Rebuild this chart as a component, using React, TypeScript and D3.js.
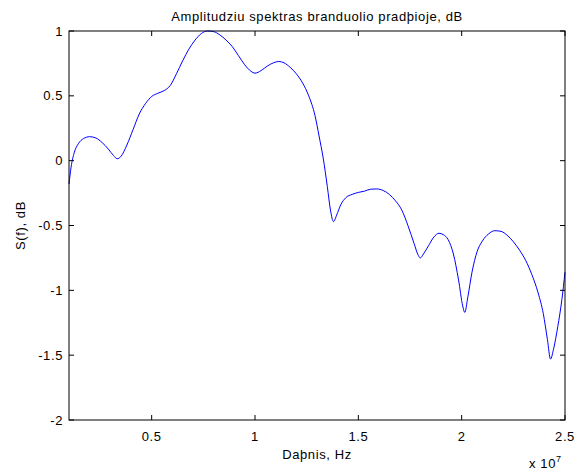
import React from "react";
import * as d3 from "d3";

// Frequency (×1e7 Hz) and spectrum amplitude (dB, normalised)
const freq = [
  0.1, 0.11, 0.125, 0.145, 0.17, 0.2, 0.23, 0.26, 0.29, 0.315, 0.333, 0.35, 0.38, 0.41, 0.44, 0.47,
  0.5, 0.53, 0.56, 0.59, 0.62, 0.65, 0.68, 0.71, 0.74, 0.77, 0.8, 0.83, 0.86, 0.89, 0.92, 0.95,
  0.98, 1.0, 1.03, 1.06, 1.09, 1.115, 1.14, 1.17, 1.2, 1.23, 1.26, 1.29, 1.31, 1.33, 1.35, 1.365,
  1.38, 1.395, 1.415, 1.44, 1.47, 1.5, 1.53, 1.56, 1.59, 1.62, 1.65, 1.68, 1.71, 1.74, 1.77, 1.79,
  1.8, 1.815, 1.84, 1.865, 1.89, 1.91, 1.935, 1.96, 1.985, 2.005, 2.015, 2.03, 2.05, 2.075, 2.1,
  2.13, 2.16, 2.19, 2.22, 2.25, 2.28, 2.31, 2.34, 2.37, 2.395, 2.415, 2.43, 2.445, 2.465, 2.485, 2.5,
];
const amp = [
  -0.18, -0.05, 0.06, 0.13, 0.17, 0.185, 0.175, 0.14, 0.09, 0.04, 0.015, 0.03, 0.12, 0.24, 0.36, 0.44,
  0.495, 0.52, 0.54, 0.58, 0.67, 0.77, 0.86, 0.93, 0.98, 1.0, 0.995, 0.97, 0.93, 0.88, 0.81, 0.74,
  0.69, 0.675, 0.695, 0.73, 0.755, 0.765, 0.755, 0.72, 0.67, 0.6, 0.5, 0.35, 0.19, 0.02, -0.2, -0.38,
  -0.47, -0.42, -0.34, -0.285, -0.26, -0.245, -0.235, -0.22, -0.218, -0.23, -0.26, -0.31, -0.38, -0.5, -0.64, -0.73,
  -0.75, -0.72, -0.655, -0.59, -0.56, -0.57, -0.61, -0.72, -0.92, -1.12, -1.17, -1.05, -0.86, -0.7, -0.62,
  -0.565, -0.54, -0.545, -0.575, -0.625, -0.69, -0.77, -0.88, -1.02, -1.18, -1.38, -1.53, -1.45, -1.28, -1.07, -0.86,
];

const xTicks = [0.5, 1, 1.5, 2, 2.5];
const xTickLabels = ["0.5", "1", "1.5", "2", "2.5"];
const yTicks = [-2, -1.5, -1, -0.5, 0, 0.5, 1];
const yTickLabels = ["-2", "-1.5", "-1", "-0.5", "0", "0.5", "1"];

const title = "Amplitudziu spektras branduolio pradþioje, dB";
const xLabel = "Daþnis, Hz";
const yLabel = "S(f), dB";

const W = 585;
const H = 472;
const left = 69;
const right = 565;
const top = 31;
const bottom = 420;
const tickLen = 5;
const fs = 13;
const ls = 0.6;
const font = "Arial, 'Liberation Sans', Helvetica, sans-serif";

export default function App() {
  const x = d3.scaleLinear().domain([0.1, 2.5]).range([left, right]);
  const y = d3.scaleLinear().domain([-2, 1]).range([bottom, top]);
  const pts: [number, number][] = freq.map((f, i) => [f, amp[i]]);
  const line = d3
    .line<[number, number]>()
    .x((d) => x(d[0]))
    .y((d) => y(d[1]))
    .curve(d3.curveMonotoneX);

  return (
    <svg
      width={W}
      height={H}
      style={{ position: "absolute", left: 0, top: 0, background: "#fff" }}
      fontFamily={font}
      letterSpacing={ls}
    >
      <rect x={0} y={0} width={W} height={H} fill="#fff" />
      <path d={line(pts) || ""} fill="none" stroke="#0000ff" strokeWidth={1} />
      {/* axes box */}
      <rect x={left} y={top} width={right - left} height={bottom - top} fill="none" stroke="#000" strokeWidth={1} />
      {xTicks.map((t, i) => (
        <g key={"x" + i}>
          <line x1={x(t)} x2={x(t)} y1={bottom} y2={bottom - tickLen} stroke="#000" />
          <line x1={x(t)} x2={x(t)} y1={top} y2={top + tickLen} stroke="#000" />
          <text x={x(t)} y={441} fontSize={fs} textAnchor="middle">
            {xTickLabels[i]}
          </text>
        </g>
      ))}
      {yTicks.map((t, i) => (
        <g key={"y" + i}>
          <line x1={left} x2={left + tickLen} y1={y(t)} y2={y(t)} stroke="#000" />
          <line x1={right} x2={right - tickLen} y1={y(t)} y2={y(t)} stroke="#000" />
          <text x={63} y={y(t) + 4.5} fontSize={fs} textAnchor="end">
            {yTickLabels[i]}
          </text>
        </g>
      ))}
      <text x={(left + right) / 2} y={21} fontSize={fs} textAnchor="middle">
        {title}
      </text>
      <text x={(left + right) / 2} y={459} fontSize={fs} textAnchor="middle">
        {xLabel}
      </text>
      <text x={529} y={468} fontSize={fs}>
        x 10
        <tspan dy={-6} fontSize={9}>7</tspan>
      </text>
      <text
        transform={`translate(25, ${(top + bottom) / 2}) rotate(-90)`}
        fontSize={fs}
        textAnchor="middle"
      >
        {yLabel}
      </text>
    </svg>
  );
}
